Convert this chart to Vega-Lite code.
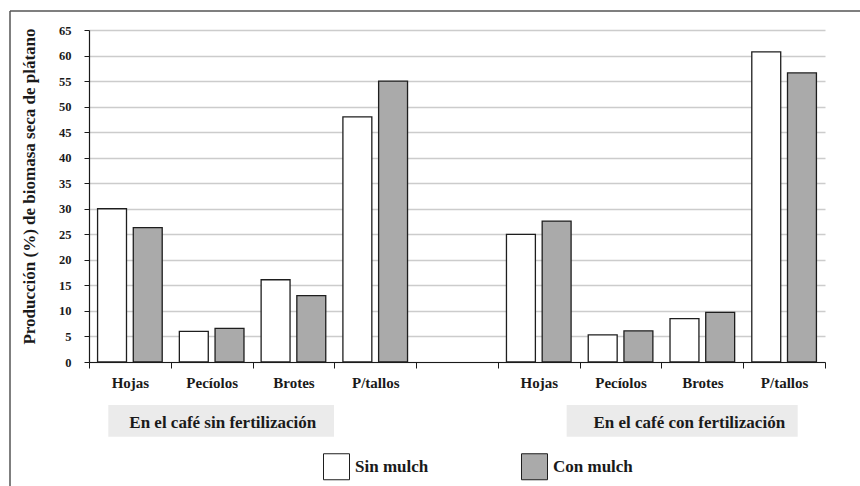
{
  "$schema": "https://vega.github.io/schema/vega-lite/v6.json",
  "width": 736,
  "height": 332,
  "autosize": {"type": "none"},
  "padding": {"left": 89, "top": 30, "right": 35, "bottom": 124},
  "background": "white",
  "config": {"view": {"stroke": null}, "font": "Liberation Serif"},
  "datasets": {
    "biomasa": [
      {"categoria": "sin|Hojas", "tratamiento": "Sin mulch", "valor": 30.0},
      {"categoria": "sin|Hojas", "tratamiento": "Con mulch", "valor": 26.3},
      {"categoria": "sin|Pecíolos", "tratamiento": "Sin mulch", "valor": 6.0},
      {"categoria": "sin|Pecíolos", "tratamiento": "Con mulch", "valor": 6.6},
      {"categoria": "sin|Brotes", "tratamiento": "Sin mulch", "valor": 16.1},
      {"categoria": "sin|Brotes", "tratamiento": "Con mulch", "valor": 13.0},
      {"categoria": "sin|P/tallos", "tratamiento": "Sin mulch", "valor": 48.0},
      {"categoria": "sin|P/tallos", "tratamiento": "Con mulch", "valor": 55.0},
      {"categoria": "con|Hojas", "tratamiento": "Sin mulch", "valor": 25.0},
      {"categoria": "con|Hojas", "tratamiento": "Con mulch", "valor": 27.6},
      {"categoria": "con|Pecíolos", "tratamiento": "Sin mulch", "valor": 5.3},
      {"categoria": "con|Pecíolos", "tratamiento": "Con mulch", "valor": 6.1},
      {"categoria": "con|Brotes", "tratamiento": "Sin mulch", "valor": 8.5},
      {"categoria": "con|Brotes", "tratamiento": "Con mulch", "valor": 9.7},
      {"categoria": "con|P/tallos", "tratamiento": "Sin mulch", "valor": 60.7},
      {"categoria": "con|P/tallos", "tratamiento": "Con mulch", "valor": 56.6}
    ]
  },
  "layer": [
    {
      "data": {"name": "biomasa"},
      "mark": {"type": "bar", "stroke": "#1e1e1e", "strokeWidth": 1.3},
      "encoding": {
        "x": {
          "field": "categoria",
          "type": "nominal",
          "scale": {
            "domain": ["sin|Hojas", "sin|Pecíolos", "sin|Brotes", "sin|P/tallos", "esp|", "con|Hojas", "con|Pecíolos", "con|Brotes", "con|P/tallos"],
            "paddingInner": 0,
            "paddingOuter": 0
          },
          "axis": {
            "title": null,
            "labelExpr": "split(datum.label, '|')[1]",
            "labelAngle": 0,
            "labelFont": "Liberation Serif",
            "labelFontSize": 15,
            "labelFontWeight": "bold",
            "labelColor": "#1a1a1a",
            "labelPadding": 7,
            "tickBand": "extent",
            "tickSize": 6,
            "tickColor": "#1a1a1a",
            "tickWidth": 1,
            "domainColor": "#1a1a1a",
            "domainWidth": 1.2,
            "grid": false
          }
        },
        "xOffset": {
          "field": "tratamiento",
          "type": "nominal",
          "scale": {"domain": ["Sin mulch", "Con mulch"], "paddingInner": 0.19, "paddingOuter": 0.24}
        },
        "y": {
          "field": "valor",
          "type": "quantitative",
          "scale": {"domain": [0, 65], "nice": false, "zero": false},
          "axis": {
            "title": "Producción (%) de biomasa seca de plátano",
            "titleFont": "Liberation Serif",
            "titleFontSize": 17,
            "titleFontWeight": "bold",
            "titleColor": "#1a1a1a",
            "titleX": -55,
            "titleY": 156,
            "titleAngle": -90,
            "titleAlign": "center",
            "titleBaseline": "alphabetic",
            "values": [0, 5, 10, 15, 20, 25, 30, 35, 40, 45, 50, 55, 60, 65],
            "labelFont": "Liberation Serif",
            "labelFontSize": 12.5,
            "labelFontWeight": "bold",
            "labelColor": "#1a1a1a",
            "labelPadding": 13,
            "tickSize": 5,
            "tickColor": "#1a1a1a",
            "domainColor": "#1a1a1a",
            "domainWidth": 1.2,
            "grid": true,
            "gridColor": "#cccccc",
            "gridWidth": 1.3
          }
        },
        "fill": {
          "field": "tratamiento",
          "type": "nominal",
          "scale": {"domain": ["Sin mulch", "Con mulch"], "range": ["#ffffff", "#aaaaaa"]},
          "legend": {
            "orient": "none",
            "legendX": 234,
            "legendY": 423,
            "direction": "horizontal",
            "title": null,
            "padding": 0,
            "symbolType": "square",
            "symbolSize": 676,
            "symbolStrokeColor": "#1e1e1e",
            "symbolStrokeWidth": 1,
            "labelFont": "Liberation Serif",
            "labelFontSize": 17,
            "labelFontWeight": "bold",
            "labelColor": "#1a1a1a",
            "labelOffset": 5,
            "columnPadding": 90
          }
        }
      }
    },
    {
      "data": {"values": [{"grupo": "En el café sin fertilización"}]},
      "mark": {"type": "rect", "fill": "#ebebeb"},
      "encoding": {
        "x": {"datum": 0.236, "type": "quantitative", "scale": {"domain": [0, 9], "nice": false, "zero": false}, "axis": null},
        "x2": {"datum": 2.996},
        "y": {"datum": -8.42, "type": "quantitative", "scale": {"domain": [0, 65], "nice": false, "zero": false}, "axis": null},
        "y2": {"datum": -14.62}
      }
    },
    {
      "data": {"values": [{"grupo": "En el café con fertilización"}]},
      "mark": {"type": "rect", "fill": "#ebebeb"},
      "encoding": {
        "x": {"datum": 5.841, "type": "quantitative", "scale": {"domain": [0, 9], "nice": false, "zero": false}, "axis": null},
        "x2": {"datum": 8.666},
        "y": {"datum": -8.42, "type": "quantitative", "scale": {"domain": [0, 65], "nice": false, "zero": false}, "axis": null},
        "y2": {"datum": -14.62}
      }
    },
    {
      "data": {"values": [{"grupo": "En el café sin fertilización"}]},
      "mark": {"type": "text", "font": "Liberation Serif", "fontSize": 17, "fontWeight": "bold", "color": "#1a1a1a", "align": "center", "baseline": "alphabetic"},
      "encoding": {
        "x": {"datum": 1.636, "type": "quantitative", "scale": {"domain": [0, 9], "nice": false, "zero": false}, "axis": null},
        "y": {"datum": -12.98, "type": "quantitative", "scale": {"domain": [0, 65], "nice": false, "zero": false}, "axis": null},
        "text": {"field": "grupo"}
      }
    },
    {
      "data": {"values": [{"grupo": "En el café con fertilización"}]},
      "mark": {"type": "text", "font": "Liberation Serif", "fontSize": 17, "fontWeight": "bold", "color": "#1a1a1a", "align": "center", "baseline": "alphabetic"},
      "encoding": {
        "x": {"datum": 7.34, "type": "quantitative", "scale": {"domain": [0, 9], "nice": false, "zero": false}, "axis": null},
        "y": {"datum": -12.98, "type": "quantitative", "scale": {"domain": [0, 65], "nice": false, "zero": false}, "axis": null},
        "text": {"field": "grupo"}
      }
    },
    {
      "data": {"values": [{}]},
      "mark": {"type": "rule", "stroke": "#555555", "strokeWidth": 1.5},
      "encoding": {
        "x": {"datum": -0.966, "type": "quantitative", "scale": {"domain": [0, 9], "nice": false, "zero": false}, "axis": null},
        "x2": {"datum": 9.5},
        "y": {"datum": 68.72, "type": "quantitative", "scale": {"domain": [0, 65], "nice": false, "zero": false}, "axis": null}
      }
    },
    {
      "data": {"values": [{}]},
      "mark": {"type": "rule", "stroke": "#555555", "strokeWidth": 1.5},
      "encoding": {
        "x": {"datum": -0.966, "type": "quantitative", "scale": {"domain": [0, 9], "nice": false, "zero": false}, "axis": null},
        "y": {"datum": 68.72, "type": "quantitative", "scale": {"domain": [0, 65], "nice": false, "zero": false}, "axis": null},
        "y2": {"datum": -25}
      }
    }
  ],
  "resolve": {"scale": {"x": "independent", "y": "independent"}}
}
